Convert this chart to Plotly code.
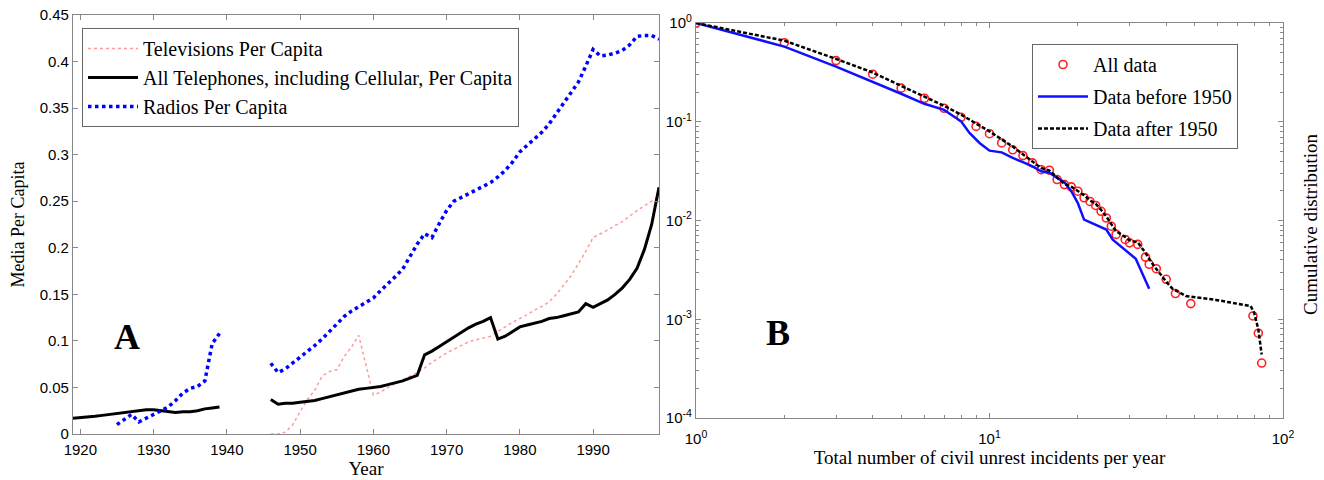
import plotly.graph_objects as go

# ---------------- Panel A data ----------------
years_pre = list(range(1919, 1940))
years_post = list(range(1946, 2000))

phone_pre = [0.017, 0.0175, 0.018, 0.019, 0.020, 0.021, 0.022, 0.023, 0.024, 0.025, 0.026,
             0.026, 0.025, 0.024, 0.023, 0.024, 0.024, 0.025, 0.027, 0.028, 0.029]
phone_post = [0.037, 0.032, 0.033, 0.033, 0.034, 0.035, 0.036, 0.038, 0.040, 0.042, 0.044,
              0.046, 0.048, 0.049, 0.050, 0.051, 0.053, 0.055, 0.057, 0.060, 0.063, 0.085,
              0.089, 0.094, 0.099, 0.104, 0.109, 0.114, 0.118, 0.121, 0.125, 0.102, 0.105,
              0.110, 0.115, 0.117, 0.119, 0.121, 0.124, 0.125, 0.127, 0.129, 0.131, 0.140,
              0.136, 0.140, 0.144, 0.150, 0.157, 0.166, 0.178, 0.198, 0.225, 0.265]

radio_years_pre = list(range(1925, 1940))
radio_pre = [0.010, 0.015, 0.021, 0.013, 0.017, 0.020, 0.024, 0.029, 0.036, 0.044, 0.049,
             0.051, 0.057, 0.097, 0.108]
radio_post = [0.076, 0.066, 0.070, 0.076, 0.082, 0.088, 0.095, 0.102, 0.110, 0.118, 0.126,
              0.132, 0.137, 0.141, 0.146, 0.154, 0.161, 0.169, 0.177, 0.190, 0.204, 0.215,
              0.211, 0.226, 0.240, 0.250, 0.254, 0.258, 0.262, 0.266, 0.270, 0.276, 0.283,
              0.292, 0.303, 0.310, 0.317, 0.324, 0.333, 0.344, 0.355, 0.366, 0.378, 0.395,
              0.413, 0.406, 0.407, 0.409, 0.412, 0.418, 0.427, 0.428, 0.428, 0.424]

tv_post = [0.0, 0.0, 0.002, 0.010, 0.024, 0.037, 0.047, 0.062, 0.067, 0.069, 0.083,
           0.093, 0.106, 0.075, 0.042, 0.045, 0.050, 0.054, 0.058, 0.062, 0.066, 0.071,
           0.077, 0.082, 0.087, 0.091, 0.095, 0.099, 0.101, 0.103, 0.105, 0.110, 0.115,
           0.120, 0.124, 0.128, 0.133, 0.137, 0.142, 0.150, 0.160, 0.170, 0.183, 0.196,
           0.211, 0.215, 0.219, 0.224, 0.228, 0.234, 0.240, 0.245, 0.250, 0.256]

# ---------------- Panel B data ----------------
all_n = [1, 2, 3, 4, 5, 6, 7, 8, 9, 10, 11, 12, 13, 14, 15, 16, 17, 18, 19, 20, 21, 22,
         23, 24, 25, 26, 27, 29, 30, 32, 34, 35, 37, 40, 43, 48.5, 79, 82.4, 84.6]
all_p = [1.0, 0.632, 0.416, 0.303, 0.219, 0.173, 0.137, 0.111, 0.0897, 0.0757, 0.061,
         0.052, 0.0454, 0.0383, 0.0327, 0.0323, 0.026, 0.0231, 0.0219, 0.0198, 0.0170,
         0.0156, 0.0142, 0.0124, 0.0106, 0.00875, 0.00723, 0.00643, 0.00594, 0.00573,
         0.00426, 0.0036, 0.00325, 0.00254, 0.00182, 0.00144, 0.00108, 0.000722, 0.00036]

before_n = [1, 2, 3, 4, 5, 6, 7, 8, 8.55, 9.25, 10, 11, 12, 13, 14, 15, 16, 17, 18, 19,
            20, 21, 25, 26.3, 31.5, 35]
before_p = [1.0, 0.577, 0.362, 0.255, 0.192, 0.152, 0.132, 0.101, 0.077, 0.061, 0.051,
            0.049, 0.043, 0.039, 0.0354, 0.0315, 0.0305, 0.027, 0.0244, 0.0198, 0.015,
            0.0102, 0.0081, 0.0064, 0.0041, 0.00204]

after_n = [1, 2, 3, 4, 5, 6, 7, 8, 9, 10, 12, 13, 14, 15, 16, 17, 18, 19, 20, 21, 22, 23,
           24, 25, 26, 27, 29, 30, 32, 34, 36, 38, 40, 42, 46.7, 59, 77.6, 79.7, 82.4, 84.6]
after_p = [1.0, 0.662, 0.433, 0.315, 0.231, 0.180, 0.145, 0.118, 0.097, 0.0798, 0.056,
           0.047, 0.040, 0.034, 0.032, 0.027, 0.0235, 0.022, 0.020, 0.018, 0.016, 0.0148,
           0.0128, 0.011, 0.0092, 0.0078, 0.0068, 0.0063, 0.0060, 0.0047, 0.0036, 0.0029,
           0.0024, 0.00204, 0.00172, 0.00157, 0.00136, 0.00117, 0.00079, 0.00044]


def with_gap(xa, ya, xb, yb):
    return xa + [None] + xb, ya + [None] + yb


SERIF = "Liberation Serif"
SANS = "Liberation Sans"

fig = go.Figure()

fig.add_trace(go.Scatter(x=years_post, y=tv_post, mode="lines", name="Televisions Per Capita",
                         line=dict(color="#ff9a9a", width=1.5, dash="dot"),
                         xaxis="x", yaxis="y", legend="legend"))
px, py = with_gap(years_pre, phone_pre, years_post, phone_post)
fig.add_trace(go.Scatter(x=px, y=py, mode="lines",
                         name="All Telephones, including Cellular, Per Capita",
                         line=dict(color="black", width=3), xaxis="x", yaxis="y",
                         legend="legend"))
rx, ry = with_gap(radio_years_pre, radio_pre, years_post, radio_post)
fig.add_trace(go.Scatter(x=rx, y=ry, mode="lines", name="Radios Per Capita",
                         line=dict(color="#0000ff", width=3.5, dash="dot"),
                         xaxis="x", yaxis="y", legend="legend"))

fig.add_trace(go.Scatter(x=all_n, y=all_p, mode="markers", name="All data",
                         marker=dict(symbol="circle-open", color="#ff2020", size=8,
                                     line=dict(width=1.6, color="#ff2020")),
                         xaxis="x2", yaxis="y2", legend="legend2", legendgroup="g1"))
fig.add_trace(go.Scatter(x=before_n, y=before_p, mode="lines", name="Data before 1950",
                         line=dict(color="#1010ff", width=2.5),
                         xaxis="x2", yaxis="y2", legend="legend2", legendgroup="g2"))
fig.add_trace(go.Scatter(x=after_n, y=after_p, mode="lines", name="Data after 1950",
                         line=dict(color="black", width=2.5, dash="4px,2px"),
                         xaxis="x2", yaxis="y2", legend="legend2", legendgroup="g3"))

W, H = 1324, 480


def fx(px_):
    return px_ / W


def fy(py_):
    return 1 - py_ / H


axis_common = dict(showgrid=False, zeroline=False, showline=True, linecolor="#888888",
                   linewidth=1.2, mirror="ticks", ticks="inside", ticklen=5,
                   tickcolor="#888888", automargin=False, ticklabeloverflow="allow",
                   tickfont=dict(family=SANS, size=15, color="black"))

log_ticks_x = [1, 10, 100]
log_text_x = ["10<sup>0</sup>", "10<sup>1</sup>", "10<sup>2</sup>"]
log_ticks_y = [1e-4, 1e-3, 1e-2, 1e-1, 1]
log_text_y = ["10<sup>-4</sup>", "10<sup>-3</sup>", "10<sup>-2</sup>", "10<sup>-1</sup>",
              "10<sup>0</sup>"]
minor_x = [2, 3, 4, 5, 6, 7, 8, 9, 20, 30, 40, 50, 60, 70, 80, 90]
minor_y = [m * 10.0 ** e for e in range(-4, 0) for m in range(2, 10)]

fig.update_layout(
    width=W, height=H, margin=dict(l=0, r=0, t=0, b=0, autoexpand=False),
    paper_bgcolor="white", plot_bgcolor="white",
    xaxis=dict(domain=[fx(73), fx(659)], anchor="y", range=[1919, 1999],
               tickmode="array", tickvals=list(range(1920, 2000, 10)),
               ticklabelstandoff=2,
               title=dict(text="Year", font=dict(family=SERIF, size=19, color="black"),
                          standoff=0),
               **axis_common),
    yaxis=dict(domain=[fy(434), fy(15)], anchor="x", range=[0, 0.45],
               tickmode="array", tickvals=[0, 0.05, 0.1, 0.15, 0.2, 0.25, 0.3, 0.35, 0.4, 0.45],
               ticktext=["0", "0.05", "0.1", "0.15", "0.2", "0.25", "0.3", "0.35", "0.4", "0.45"],
               title=dict(text="Media Per Capita", font=dict(family=SERIF, size=18, color="black"),
                          standoff=10),
               **axis_common),
    xaxis2=dict(domain=[fx(696), fx(1283)], anchor="y2", type="log", range=[0, 2],
                tickmode="array", tickvals=log_ticks_x, ticktext=log_text_x,
                minor=dict(tickmode="array", tickvals=minor_x, ticks="inside", ticklen=3,
                           tickcolor="#888888", showgrid=False),
                ticklabelstandoff=7,
                title=dict(text="Total number of civil unrest incidents per year",
                           font=dict(family=SERIF, size=19, color="black"), standoff=2),
                **axis_common),
    yaxis2=dict(domain=[fy(418), fy(23)], anchor="x2", type="log", range=[-4, 0],
                tickmode="array", tickvals=log_ticks_y, ticktext=log_text_y,
                minor=dict(tickmode="array", tickvals=minor_y, ticks="inside", ticklen=3,
                           tickcolor="#888888", showgrid=False),
                **axis_common),
    legend=dict(x=fx(82), y=fy(28), xanchor="left", yanchor="top",
                bgcolor="white", bordercolor="#666666", borderwidth=1,
                font=dict(family=SERIF, size=20, color="black"),
                tracegroupgap=0, itemwidth=50),
    legend2=dict(x=fx(1032), y=fy(44), xanchor="left", yanchor="top",
                 bgcolor="white", bordercolor="#666666", borderwidth=1,
                 font=dict(family=SERIF, size=20, color="black"),
                 tracegroupgap=3, itemwidth=50),
    showlegend=True,
    annotations=[
        dict(text="<b>A</b>", x=fx(127), y=fy(337), xref="paper", yref="paper",
             xanchor="center", yanchor="middle",
             showarrow=False, font=dict(family=SERIF, size=36, color="black")),
        dict(text="<b>B</b>", x=fx(778), y=fy(333), xref="paper", yref="paper",
             xanchor="center", yanchor="middle",
             showarrow=False, font=dict(family=SERIF, size=36, color="black")),
        dict(text="Cumulative distribution", x=fx(1310), y=fy(224), xref="paper",
             yref="paper", showarrow=False, textangle=-90,
             xanchor="center", yanchor="middle",
             font=dict(family=SERIF, size=19, color="black")),
    ],
)

# Remove the default page margin so the figure sits at the window's top-left corner.
fig.write_html("out.html", config={"displayModeBar": False},
               post_script="document.body.style.margin='0px';document.body.style.overflow='hidden';")
